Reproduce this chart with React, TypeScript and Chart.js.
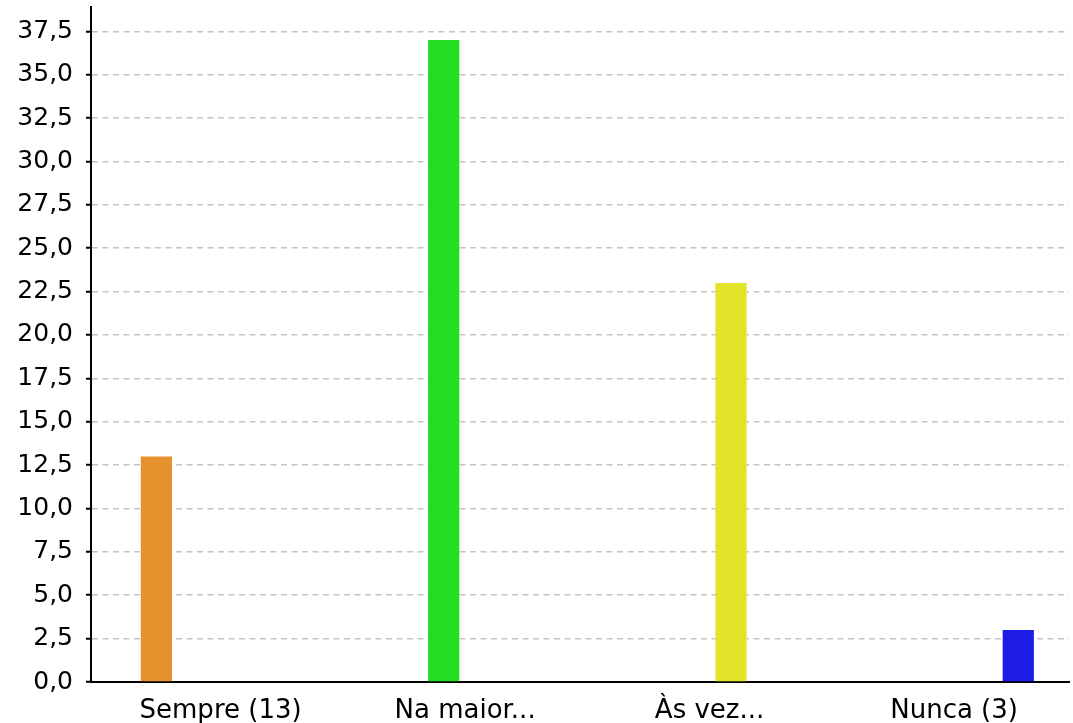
import React, { useEffect, useRef } from "react";
import { Chart, registerables } from "chart.js";

Chart.register(...registerables);

const categories = ["Sempre (13)", "Na maior...", "Às vez...", "Nunca (3)"];
const values = [13, 37, 23, 3];
const barColors = ["#E5922E", "#22DD22", "#E2E42A", "#1C1CE6"];
const yMax = 38.9;
const yTicks = [0, 2.5, 5, 7.5, 10, 12.5, 15, 17.5, 20, 22.5, 25, 27.5, 30, 32.5, 35, 37.5];

export default function App() {
  const ref = useRef<HTMLCanvasElement | null>(null);

  useEffect(() => {
    if (!ref.current) return;
    const datasets = categories.map((c, i) => ({
      label: c,
      data: values.map((v, j) => (j === i ? v : null)),
      backgroundColor: barColors[i],
      borderWidth: 0,
      categoryPercentage: 0.7,
      barPercentage: 0.73,
    }));
    const family = "'DejaVu Sans', sans-serif";
    const chart = new Chart(ref.current, {
      type: "bar",
      data: { labels: categories, datasets },
      options: {
        animation: false,
        responsive: true,
        maintainAspectRatio: false,
        layout: { padding: { top: 7, right: 4, left: 0, bottom: 0 } },
        plugins: { legend: { display: false }, tooltip: { enabled: false } },
        scales: {
          x: {
            grid: { display: false },
            border: { display: true, color: "#000", width: 2 },
            ticks: { color: "#000", font: { family, size: 26 }, padding: 6, maxRotation: 0, autoSkip: false },
            afterBuildTicks: (s: any) => {
              if (typeof s._startValue === "number") s._startValue -= 0.03;
            },
            afterFit: (s: any) => {
              s.height = 41;
              s.paddingLeft = 0;
              s.paddingRight = 0;
            },
          },
          y: {
            min: 0,
            max: yMax,
            ticks: {
              color: "#000",
              font: { family, size: 25 },
              padding: 13,
              callback: (v: any) => Number(v).toFixed(1).replace(".", ","),
            },
            afterBuildTicks: (s: any) => {
              s.ticks = yTicks.map((value) => ({ value }));
            },
            grid: {
              color: "#c4c4c4",
              lineWidth: 1.5,
              tickColor: "#000",
              tickLength: 5,
              tickWidth: 2,
              tickBorderDash: [],
            },
            border: { display: true, color: "#000", width: 2, dash: [6, 4.5] },
            afterFit: (s: any) => {
              s.width = 91;
              s.paddingTop = 0;
              s.paddingBottom = 0;
            },
          },
        },
      },
    });
    return () => chart.destroy();
  }, []);

  return (
    <div style={{ position: "fixed", left: 0, top: 0, width: 1073, height: 723, background: "#fff" }}>
      <canvas ref={ref} />
    </div>
  );
}
